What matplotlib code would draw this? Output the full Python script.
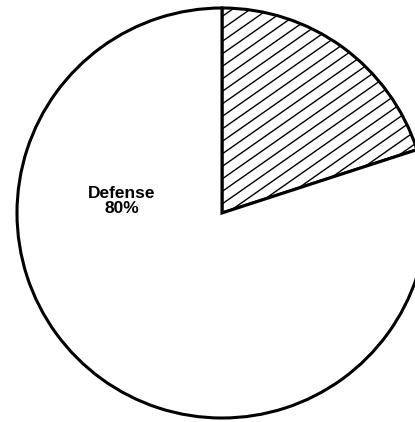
import numpy as np
import matplotlib
matplotlib.use("Agg")
import matplotlib.pyplot as plt

labels = ["Other", "Defense"]
shares = [20, 80]
label_text = ["", "Defense\n80%"]

fig = plt.figure(figsize=(4.15, 4.22), dpi=100)
ax = fig.add_axes([0, 0, 1, 1])
ax.set_xlim(0, 415)
ax.set_ylim(0, 422)
ax.set_aspect("equal")
ax.axis("off")

cx, cy, r = 222, 209, 205
wedges, _ = ax.pie(shares, startangle=90, counterclock=False, center=(cx, cy),
                   radius=r, colors=["white", "white"],
                   wedgeprops=dict(edgecolor="black", linewidth=2.2),
                   frame=True)
ax.set_xlim(0, 415)
ax.set_ylim(0, 422)
ax.axis("off")

# hatch lines at ~35 degrees for the first wedge
slope = np.tan(np.radians(35))
xs = np.array([-100, 600])
for c in np.arange(-600, 600, 12.5):
    ln, = ax.plot(xs, xs * slope + c, color="black", linewidth=1.0, zorder=3)
    ln.set_clip_path(wedges[0])

ax.text(122, 422 - 201, label_text[1], ha="center", va="center",
        fontsize=12.5, fontweight="bold", family=["Liberation Sans", "DejaVu Sans"],
        linespacing=0.95)

fig.savefig("out.png", dpi=100)
